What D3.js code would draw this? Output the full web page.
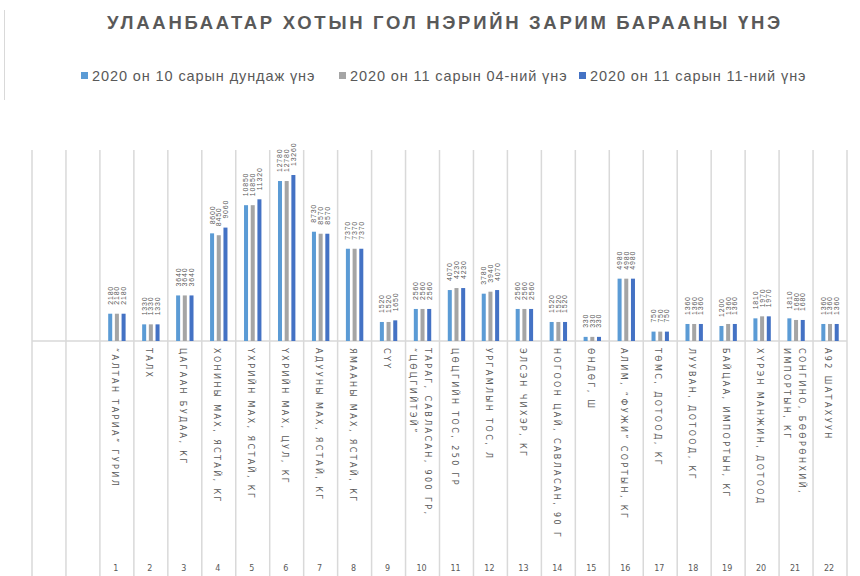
<!DOCTYPE html>
<meta charset="utf-8">
<html>
<body style="margin:0;background:#fff">
<svg width="860" height="576"></svg>
<script src="https://d3js.org/d3.v7.min.js"></script>
<script>
// category names (two-line ones are split with |)
var categories = [
  "\u201CАЛТАН ТАРИА\u201D ГУРИЛ", "ТАЛХ", "ЦАГААН БУДАА, КГ", "ХОНИНЫ МАХ, ЯСТАЙ, КГ",
  "ҮХРИЙН МАХ, ЯСТАЙ, КГ", "ҮХРИЙН МАХ, ЦУЛ, КГ", "АДУУНЫ МАХ, ЯСТАЙ, КГ", "ЯМААНЫ МАХ, ЯСТАЙ, КГ",
  "СҮҮ", "ТАРАГ, САВЛАСАН, 900 ГР,|\u201CЦӨЦГИЙТЭЙ\u201D", "ЦӨЦГИЙН ТОС, 250 ГР", "УРГАМЛЫН ТОС, Л",
  "ЭЛСЭН ЧИХЭР, КГ", "НОГООН ЦАЙ, САВЛАСАН, 90 Г", "ӨНДӨГ, Ш", "АЛИМ, \u201CФУЖИ\u201D СОРТЫН, КГ",
  "ТӨМС, ДОТООД, КГ", "ЛУУВАН, ДОТООД, КГ", "БАЙЦАА, ИМПОРТЫН, КГ", "ХҮРЭН МАНЖИН, ДОТООД",
  "СОНГИНО, БӨӨРӨНХИЙ,|ИМПОРТЫН, КГ", "А92 ШАТАХУУН"
];
var seriesNames = ["2020 он 10 сарын дундаж үнэ", "2020 он 11 сарын 04-ний үнэ", "2020 он 11 сарын 11-ний үнэ"];
var octAvg = [2180, 1330, 3640, 8600, 10850, 12780, 8730, 7370, 1520, 2560, 4070, 3780, 2560, 1520, 330, 4980, 750, 1360, 1200, 1810, 1810, 1360];
var nov04  = [2180, 1330, 3640, 8450, 10850, 12780, 8570, 7370, 1520, 2560, 4230, 3940, 2560, 1520, 330, 4980, 750, 1360, 1360, 1970, 1680, 1360];
var nov11  = [2180, 1330, 3640, 9060, 11320, 13260, 8570, 7370, 1650, 2560, 4230, 4070, 2560, 1520, 330, 4980, 750, 1360, 1360, 1970, 1680, 1360];
var colors = ["#5b9bd5", "#a5a5a5", "#4472c4"];

var series = [octAvg, nov04, nov11];
var svg = d3.select("svg");
var grid = "#d9d9d9", textGray = "#595959";

// two empty columns at the left, as in the original sheet
var x = d3.scaleBand().domain(d3.range(-2, categories.length)).range([32, 847]);
var xs = d3.scaleBand().domain([0, 1, 2]).range([-8.7, 8.7]).paddingInner(0.4);
var y = d3.scaleLinear().domain([0, 14300]).range([341, 162]);

// frame line at far left
svg.append("line").attr("x1", 4.5).attr("x2", 4.5).attr("y1", 10).attr("y2", 100)
  .attr("stroke", grid);

// title
svg.append("text").attr("x", 445).attr("y", 29).attr("text-anchor", "middle")
  .attr("font-family", "Liberation Sans, sans-serif").attr("font-weight", "bold")
  .attr("font-size", 18.5).attr("letter-spacing", 2.7).attr("fill", textGray)
  .text("УЛААНБААТАР ХОТЫН ГОЛ НЭРИЙН ЗАРИМ БАРААНЫ ҮНЭ");

// legend
var legX = [81, 339, 579];
var leg = svg.append("g").selectAll("g").data(seriesNames).enter().append("g")
  .attr("transform", function(d, i) { return "translate(" + legX[i] + ",76)"; });
leg.append("rect").attr("x", 0).attr("y", -4).attr("width", 7).attr("height", 7)
  .attr("fill", function(d, i) { return colors[i]; });
leg.append("text").attr("x", 11).attr("y", 0).attr("dy", "0.35em")
  .attr("font-family", "Liberation Sans, sans-serif").attr("font-size", 14.5)
  .attr("letter-spacing", 0.9).attr("fill", textGray).text(function(d) { return d; });

// column separators
var edges = x.domain().map(function(d) { return x(d); }).concat([x.range()[1]]);
svg.append("g").selectAll("line").data(edges).enter().append("line")
  .attr("x1", function(d) { return d; }).attr("x2", function(d) { return d; })
  .attr("y1", 150).attr("y2", 576).attr("stroke", grid).attr("stroke-width", 1.5);

// axis line
svg.append("line").attr("x1", x.range()[0]).attr("x2", x.range()[1])
  .attr("y1", y(0)).attr("y2", y(0)).attr("stroke", grid).attr("stroke-width", 1.5);

// bars and value labels
var groups = svg.append("g").selectAll("g").data(categories).enter().append("g")
  .attr("transform", function(d, i) { return "translate(" + (x(i) + x.bandwidth() / 2) + ",0)"; });

series.forEach(function(vals, s) {
  groups.append("rect")
    .attr("x", xs(s)).attr("width", xs.bandwidth())
    .attr("y", function(d, i) { return y(vals[i]); })
    .attr("height", function(d, i) { return y(0) - y(vals[i]); })
    .attr("fill", colors[s]);
  groups.append("text")
    .attr("transform", function(d, i) {
      return "translate(" + (xs(s) + xs.bandwidth() / 2) + "," + (y(vals[i]) - 9) + ") rotate(-90)";
    })
    .attr("dy", "0.35em").attr("text-anchor", "start")
    .attr("font-family", "Liberation Sans, sans-serif").attr("font-size", 7)
    .attr("letter-spacing", 0.8).attr("fill", textGray)
    .text(function(d, i) { return vals[i]; });
});

// category names, rotated
groups.each(function(d) {
  var lines = d.split("|");
  var g = d3.select(this);
  lines.forEach(function(line, k) {
    var off = (lines.length - 1) * 7.5 - k * 15 - 2;
    g.append("text")
      .attr("transform", "translate(" + off + ",348) rotate(90)")
      .attr("dy", "0.35em").attr("text-anchor", "start")
      .attr("font-family", "DejaVu Sans, sans-serif").attr("font-size", 8)
      .attr("letter-spacing", 2.4).attr("fill", textGray)
      .text(line);
  });
});

// category numbers
groups.append("text").attr("x", -1).attr("y", 568).attr("dy", "0.35em")
  .attr("text-anchor", "middle").attr("font-family", "DejaVu Sans, sans-serif")
  .attr("font-size", 8).attr("fill", textGray)
  .text(function(d, i) { return i + 1; });
</script>
</body>
</html>
